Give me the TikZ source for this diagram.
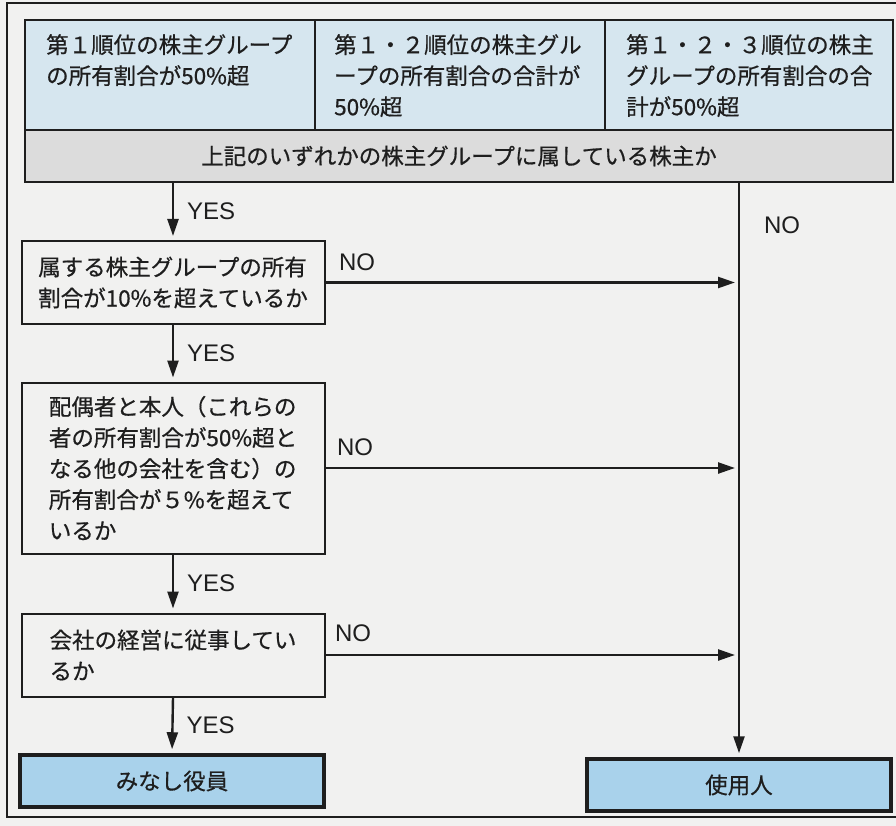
\documentclass[tikz,border=0pt]{standalone}
\usepackage{fontspec}
\setmainfont{Noto Sans CJK JP}[FakeBold=0.6]
\newfontfamily\latf{Liberation Sans}
\usetikzlibrary{arrows.meta}
\definecolor{paper}{HTML}{F1F1F0}
\definecolor{topblue}{HTML}{D6E6EF}
\definecolor{bargray}{HTML}{DCDCDC}
\definecolor{endblue}{HTML}{A9D2EB}
\definecolor{ink}{HTML}{1E1E1E}
\tikzset{
  jtext/.style={font=\fontsize{22.5}{31}\selectfont, text=ink},
  topbox/.style={draw=ink, line width=2pt, fill=topblue, minimum height=110pt, inner sep=0pt},
  toptext/.style={jtext, anchor=north west, align=left, inner sep=0pt},
  graybox/.style={draw=ink, line width=2pt, fill=bargray, jtext, minimum height=52pt, inner sep=0pt},
  qbox/.style={draw=ink, line width=2pt, fill=paper, jtext, align=left, minimum width=303pt, inner sep=0pt},
  endbox/.style={draw=ink, line width=3.5pt, fill=endblue, jtext, minimum width=304pt, minimum height=52pt, inner sep=0pt},
  arr/.style={draw=ink, line width=2.4pt, -{Triangle[length=17pt,width=11pt]}, shorten >=4pt},
  lbl/.style={font=\latf\fontsize{24}{24}\selectfont, text=ink, inner sep=0pt},
  yeslbl/.style={lbl, midway, anchor=west, xshift=13pt},
}
\begin{document}
\begin{tikzpicture}[x=1pt,y=-1pt]
\useasboundingbox (0,0) rectangle (896,826);
\fill[paper] (0,0) rectangle (896,826);
\draw[ink, line width=2pt] (905,3) -- (7,3) -- (7,817) -- (905,817);

% top conditions
\node[topbox, minimum width=290pt] (t1) at (170,75) {};
\node[topbox, minimum width=290pt] (t2) at (460,75) {};
\node[topbox, minimum width=288pt] (t3) at (749,75) {};
\node[toptext] (t1x) at ([shift={(22pt,-15pt)}]t1.north west) {第１順位の株主グループ\\の所有割合が50\%超};
\node[toptext] (t2x) at ([shift={(20pt,-15pt)}]t2.north west) {第１・２順位の株主グル\\ープの所有割合の合計が\\50\%超};
\node[toptext] (t3x) at ([shift={(22pt,-15pt)}]t3.north west) {第１・２・３順位の株主\\グループの所有割合の合\\計が50\%超};
\node[graybox, minimum width=868pt] (g) at (459,156) {上記のいずれかの株主グループに属している株主か};

% questions
\node[qbox, minimum height=83pt] (b1) at (173,282.5) {属する株主グループの所有\\割合が10\%を超えているか};
\node[qbox, minimum height=171pt] (b2) at (173,468) {配偶者と本人（これらの\\者の所有割合が50\%超と\\なる他の会社を含む）の\\所有割合が５\%を超えて\\いるか};
\node[qbox, minimum height=83pt] (b3) at (173,655) {会社の経営に従事してい\\るか};

% results
\node[endbox] (m) at (172,781) {みなし役員};
\node[endbox] (s) at (739,785) {使用人};

% YES arrows
\draw[arr] (g.south -| b1.north) -- node[yeslbl] (y1) {YES} (b1.north);
\draw[arr] (b1.south) -- node[yeslbl] (y2) {YES} (b2.north);
\draw[arr] (b2.south) -- node[yeslbl] (y3) {YES} (b3.north);
\draw[arr] (b3.south) -- node[yeslbl] (y4) {YES} (m.north);

% NO arrows
\draw[arr] (g.south -| s.north) -- (s.north);
\node[lbl] (n0) at (782,225) {NO};
\draw[arr] (b1.east) -- (b1.east -| s.north);
\node[lbl] (n1) at (357,262) {NO};
\draw[arr] (b2.east) -- (b2.east -| s.north);
\node[lbl] (n2) at (355,447) {NO};
\draw[arr] (b3.east) -- (b3.east -| s.north);
\node[lbl] (n3) at (353,633) {NO};
\end{tikzpicture}
\end{document}
